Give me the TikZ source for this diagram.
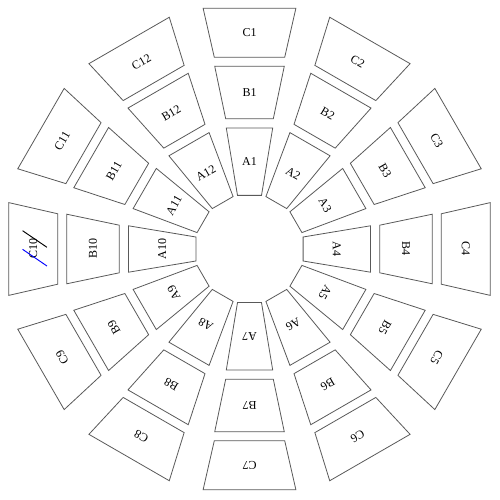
\documentclass[tikz,border=0pt]{standalone}
\usepackage{fontspec}
\setmainfont{Liberation Serif}
\tikzset{
  cell/.style={draw=black!65,line width=0.6pt},
  lbl/.style={font=\fontsize{9}{10}\selectfont,transform shape,inner sep=0pt},
}
\begin{document}
\begin{tikzpicture}[x=0.75pt,y=0.75pt]
  \useasboundingbox (0,0) rectangle (500,500);
  \coordinate (O) at (249.5,251);
  % rings: name / inner r / outer r / inner half width / outer half width
  \foreach \ring/\ri/\ro/\wi/\wo in {A/53.6/121/12/23.2, B/130.2/182.8/23.8/34.8, C/191.7/240.8/35.2/46.4} {
    \foreach \k in {1,...,12} {
      \pgfmathsetmacro\ang{-30*(\k-1)}
      \begin{scope}[shift={(O)},rotate=\ang]
        \draw[cell] (-\wi,\ri) -- (\wi,\ri) -- (\wo,\ro) -- (-\wo,\ro) -- cycle;
        \node[lbl] (\ring\k) at (0,{(\ri+\ro)/2}) {\ring\k};
      \end{scope}
    }
  }
  \draw[line width=0.7pt] ([shift={(-10.7,18.3)}]C10.center) -- ([shift={(13.7,1.7)}]C10.center);
  \draw[blue,line width=0.7pt] ([shift={(-10.7,-0.3)}]C10.center) -- ([shift={(13.7,-17)}]C10.center);
\end{tikzpicture}
\end{document}
